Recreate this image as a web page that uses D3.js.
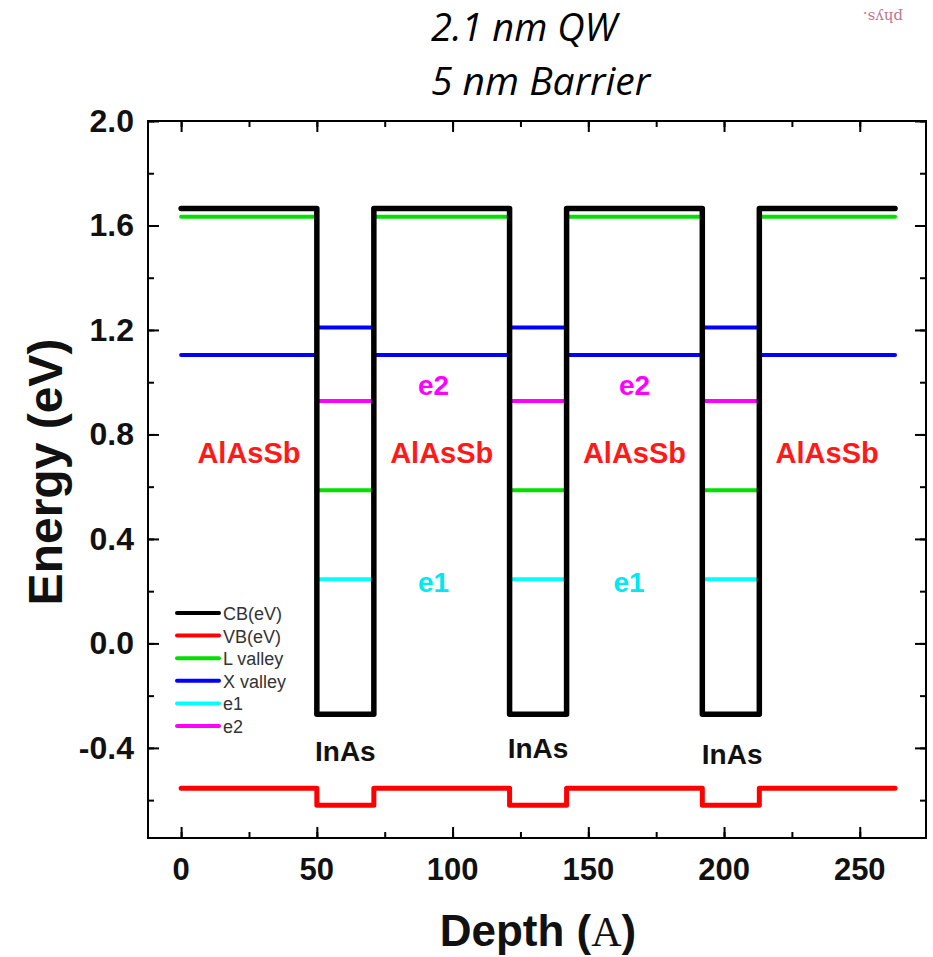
<!DOCTYPE html>
<html>
<head>
<meta charset="utf-8">
<script src="https://cdn.jsdelivr.net/npm/d3@7"></script>
<style>
  body { margin: 0; background: #fff; }
  svg text { font-family: Arial, "Liberation Sans", sans-serif; }
</style>
</head>
<body>
<div id="chart"></div>
<script>
// layer boundaries along depth (Angstrom)
const layerStart = [0, 50, 71, 121, 142, 192, 213];
const layerEnd   = [50, 71, 121, 142, 192, 213, 263];

// band levels per layer (eV), null = not drawn in that layer
const cbLevels = [1.665, -0.271, 1.665, -0.271, 1.665, -0.271, 1.665];
const vbLevels = [-0.555, -0.620, -0.555, -0.620, -0.555, -0.620, -0.555];
const lValley  = [1.633, 0.586, 1.633, 0.586, 1.633, 0.586, 1.633];
const xValley  = [1.104, 1.209, 1.104, 1.209, 1.104, 1.209, 1.104];
const e1Levels = [null, 0.246, null, 0.246, null, 0.246, null];
const e2Levels = [null, 0.928, null, 0.928, null, 0.928, null];

const legendNames  = ["CB(eV)", "VB(eV)", "L valley", "X valley", "e1", "e2"];
const legendColors = ["#000000", "#ff0000", "#00e000", "#0000ff", "#00ffff", "#ff00ff"];

const xTicks = [0, 50, 100, 150, 200, 250];
const yTicks = [-0.4, 0.0, 0.4, 0.8, 1.2, 1.6, 2.0];

const barrierLabels = [{x: 25, y: 0.69}, {x: 96, y: 0.69}, {x: 167, y: 0.69}, {x: 238, y: 0.69}];
const e2Labels = [{x: 93, y: 0.95}, {x: 167, y: 0.95}];
const e1Labels = [{x: 93, y: 0.195}, {x: 165, y: 0.195}];
const wellLabels = [{x: 60.5, y: -0.45}, {x: 131.5, y: -0.44}, {x: 203, y: -0.46}];

const W = 933, H = 957;
const margin = {top: 121, right: 7, bottom: 119, left: 148};

const svg = d3.select("#chart").append("svg")
    .attr("width", W).attr("height", H);

const x = d3.scaleLinear().domain([-12.2, 274.4]).range([margin.left, W - margin.right]);
const y = d3.scaleLinear().domain([-0.745, 2.0]).range([H - margin.bottom, margin.top]);

// title
const title = svg.append("g").attr("font-style", "italic");
title.append("text").attr("x", 431).attr("y", 41)
    .style("font-family", "'Open Sans', sans-serif").attr("font-size", 38)
    .text("2.1 nm QW");
title.append("text").attr("x", 431).attr("y", 95)
    .style("font-family", "'Open Sans', sans-serif").attr("font-size", 39)
    .text("5 nm Barrier");

// faint scrap of text at the top right corner
svg.append("text").attr("transform", "translate(903,12) rotate(180)")
    .style("font-family", "'DejaVu Serif', serif").attr("font-size", 15)
    .attr("fill", "#a0405a").attr("opacity", 0.7).text("phys.");

// frame
svg.append("rect")
    .attr("x", margin.left).attr("y", margin.top)
    .attr("width", W - margin.right - margin.left)
    .attr("height", H - margin.bottom - margin.top)
    .attr("fill", "none").attr("stroke", "#000").attr("stroke-width", 2);

// axes: inward ticks on all four sides
const xMinor = d3.range(0, 275, 25);
const yMinor = d3.range(-0.6, 2.01, 0.2);

function tickGroup(axisFn, scale, vals, size, transform) {
  const g = svg.append("g").attr("transform", transform)
      .call(axisFn(scale).tickValues(vals).tickSize(size).tickFormat(""));
  g.select(".domain").remove();
  g.selectAll("line").attr("stroke-width", 2);
  return g;
}
const bottomY = H - margin.bottom, rightX = W - margin.right;
tickGroup(d3.axisTop, x, xMinor, 6, `translate(0,${bottomY})`);
tickGroup(d3.axisTop, x, xTicks, 11, `translate(0,${bottomY})`);
tickGroup(d3.axisBottom, x, xMinor, 6, `translate(0,${margin.top})`);
tickGroup(d3.axisBottom, x, xTicks, 11, `translate(0,${margin.top})`);
tickGroup(d3.axisRight, y, yMinor, 6, `translate(${margin.left},0)`);
tickGroup(d3.axisRight, y, yTicks, 11, `translate(${margin.left},0)`);
tickGroup(d3.axisLeft, y, yMinor, 6, `translate(${rightX},0)`);
tickGroup(d3.axisLeft, y, yTicks, 11, `translate(${rightX},0)`);

// tick labels
svg.append("g").selectAll("text").data(xTicks).join("text")
    .attr("x", d => x(d)).attr("y", 880)
    .attr("text-anchor", "middle").attr("font-weight", "bold").attr("font-size", 31)
    .attr("fill", "#111").text(d => d);
svg.append("g").selectAll("text").data(yTicks).join("text")
    .attr("x", 134).attr("y", d => y(d) + 11)
    .attr("text-anchor", "end").attr("font-weight", "bold").attr("font-size", 32)
    .attr("fill", "#111").text(d => d3.format(".1f")(d).replace("\u2212", "-"));

// axis titles
svg.append("text")
    .attr("transform", "translate(62,472) rotate(-90)")
    .attr("text-anchor", "middle").attr("font-weight", "bold").attr("font-size", 48)
    .attr("fill", "#111").text("Energy (eV)");
const xt = svg.append("text").attr("x", 538).attr("y", 946)
    .attr("text-anchor", "middle").attr("font-weight", "bold").attr("font-size", 44)
    .attr("fill", "#111");
xt.append("tspan").text("Depth (");
xt.append("tspan").style("font-family", "'Liberation Serif', 'Times New Roman', serif")
    .attr("font-weight", "normal").attr("font-size", 42).text("A");
xt.append("tspan").text(")");

// band profiles
const plot = svg.append("g");

function stepPoints(levels) {
  const pts = levels.map((v, i) => [layerStart[i], v]);
  pts.push([layerEnd[layerEnd.length - 1], levels[levels.length - 1]]);
  return pts;
}
const stepLine = d3.line().x(d => x(d[0])).y(d => y(d[1])).curve(d3.curveStepAfter);

function segments(levels, color, width) {
  const segs = levels.map((v, i) => ({x0: layerStart[i], x1: layerEnd[i], v}))
      .filter(d => d.v !== null);
  plot.append("g").selectAll("line").data(segs).join("line")
      .attr("x1", d => x(d.x0)).attr("x2", d => x(d.x1))
      .attr("y1", d => y(d.v)).attr("y2", d => y(d.v))
      .attr("stroke", color).attr("stroke-width", width).attr("stroke-linecap", "round");
}

segments(lValley, legendColors[2], 4);
segments(xValley, legendColors[3], 4);
segments(e1Levels, legendColors[4], 4);
segments(e2Levels, legendColors[5], 4);

plot.append("path").datum(stepPoints(vbLevels)).attr("d", stepLine)
    .attr("fill", "none").attr("stroke", legendColors[1]).attr("stroke-width", 5)
    .attr("stroke-linejoin", "round").attr("stroke-linecap", "round");
plot.append("path").datum(stepPoints(cbLevels)).attr("d", stepLine)
    .attr("fill", "none").attr("stroke", legendColors[0]).attr("stroke-width", 5.5)
    .attr("stroke-linejoin", "round").attr("stroke-linecap", "round");

// region labels
function labels(data, text, color, size) {
  svg.append("g").selectAll("text").data(data).join("text")
      .attr("x", d => x(d.x)).attr("y", d => y(d.y))
      .attr("text-anchor", "middle").attr("font-weight", "bold").attr("font-size", size)
      .attr("fill", color).text(text);
}
labels(barrierLabels, "AlAsSb", "#ff1a1a", 29);
labels(e2Labels, "e2", "#ff00ff", 28);
labels(e1Labels, "e1", "#00e8f0", 28);
labels(wellLabels, "InAs", "#111", 28);

// legend
const legend = svg.append("g");
legendNames.forEach((name, i) => {
  const ly = 613 + i * 22.6;
  legend.append("line").attr("x1", 177).attr("x2", 219).attr("y1", ly).attr("y2", ly)
      .attr("stroke", legendColors[i]).attr("stroke-width", 4).attr("stroke-linecap", "round");
  legend.append("text").attr("x", 223).attr("y", ly + 7)
      .attr("font-size", 18).attr("fill", "#333").text(name);
});
</script>
</body>
</html>
